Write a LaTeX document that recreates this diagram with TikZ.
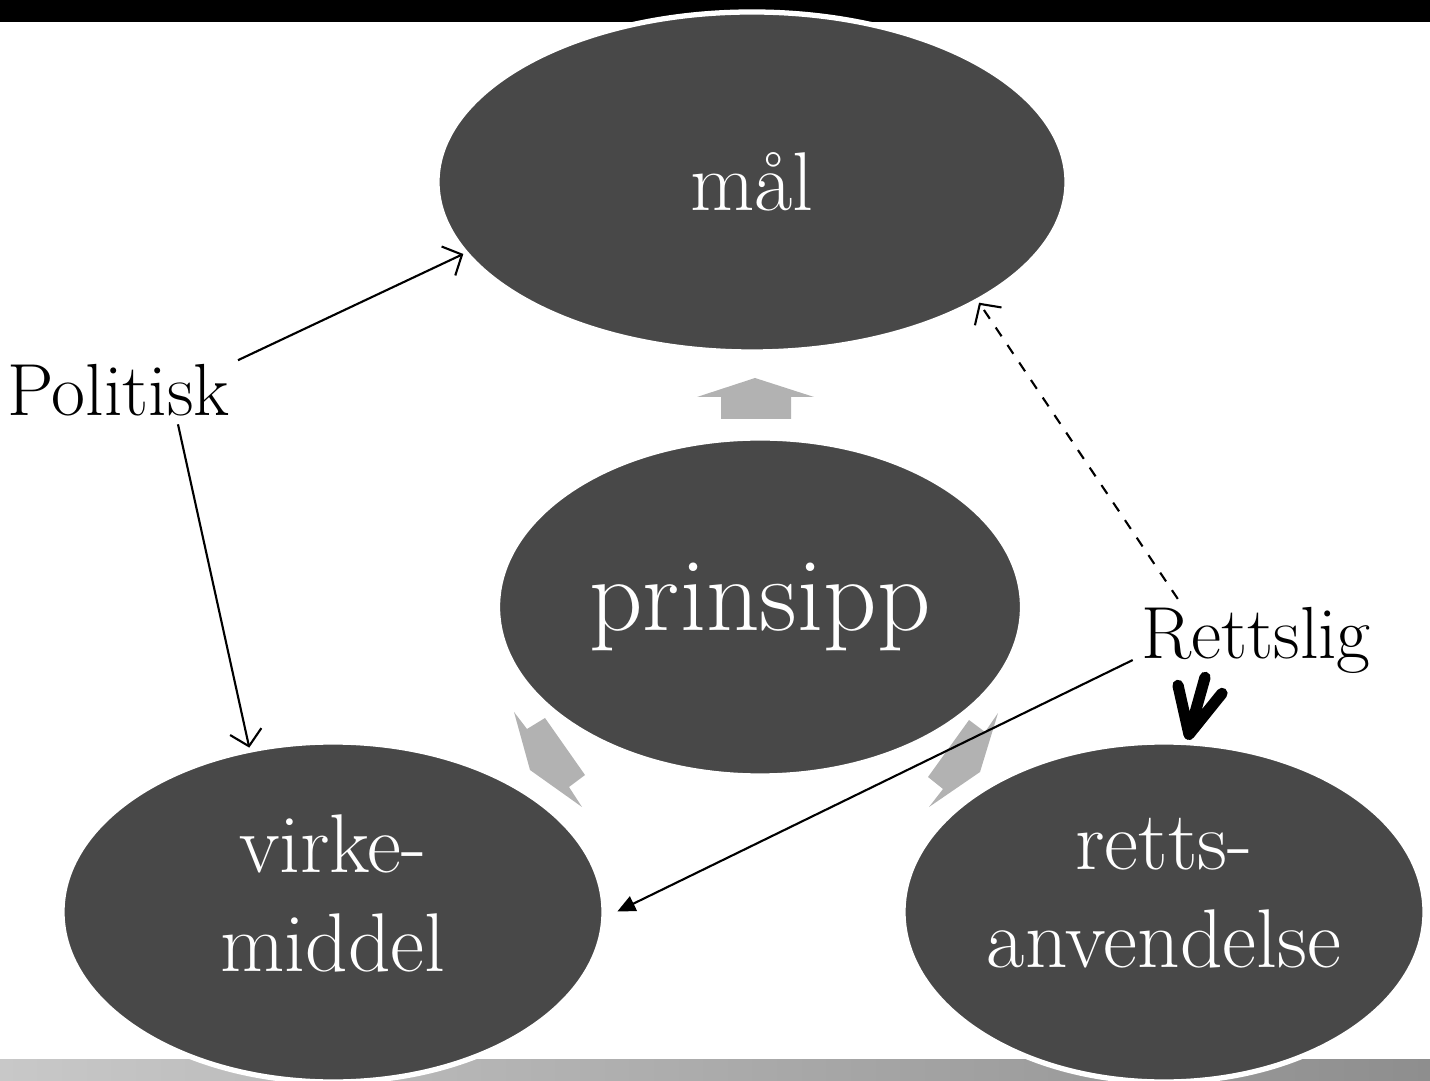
\documentclass[tikz,border=0pt]{standalone}
\usepackage{fontspec}
\usepackage{tikz}
\usetikzlibrary{shapes.geometric,calc}
\usepgflibrary{arrows.meta}
\definecolor{boks}{HTML}{484848}
\definecolor{pil}{HTML}{B2B2B2}
\tikzset{
  sirkel/.style={ellipse,fill=boks,draw=white,line width=1.5pt,inner sep=0pt,
    text=white,align=center,font=\fontsize{23.7}{28}\selectfont},
  merke/.style={inner sep=0.22em,font=\fontsize{21}{25}\selectfont},
  aapen/.style={semithick,-{Straight Barb[length=1.5mm,width=3.2mm]}},
}
\begin{document}
\begin{tikzpicture}
        \useasboundingbox (0,0) rectangle (14.30,-10.81);
        %ramme
        \fill [black] (0,0) rectangle (14.30,-0.22);
        \shade [left color={rgb,255:red,200;green,200;blue,200},right color={rgb,255:red,142;green,142;blue,142}] (0,-10.59) rectangle (14.30,-10.81);
        %grå piler
        \fill [pil] (7.55,-3.78) -- (8.14,-3.97) -- (7.91,-3.97) -- (7.91,-4.19) -- (7.21,-4.19) -- (7.21,-3.97) -- (6.97,-3.97) -- cycle;
        \fill [pil] (5.14,-7.12) -- (5.27,-7.29) -- (5.45,-7.18) -- (5.85,-7.75) -- (5.69,-7.87) -- (5.82,-8.07) -- (5.30,-7.70) -- cycle;
        \fill [pil] (9.98,-7.13) -- (9.80,-7.72) -- (9.29,-8.07) -- (9.43,-7.89) -- (9.28,-7.77) -- (9.69,-7.20) -- (9.85,-7.32) -- cycle;
        %ellipser
        \node [sirkel,minimum width=6.30cm,minimum height=3.40cm] (mal) at (7.52,-1.82) {mål};
        \node [sirkel,minimum width=5.25cm,minimum height=3.38cm,font=\fontsize{29.8}{34}\selectfont] (prinsipp) at (7.60,-6.07) {prinsipp};
        \node [sirkel,minimum width=5.42cm,minimum height=3.40cm,text depth=0.38cm] (virke) at (3.33,-9.12) {virke-\\middel};
        \node [sirkel,minimum width=5.22cm,minimum height=3.40cm,text depth=0.38cm] (retts) at (11.64,-9.12) {retts-\\anvendelse};
        %tekst
        \node [merke] (pol) at (1.185,-3.90) {Politisk};
        \node [merke] (rett) at (12.56,-6.405) {Rettslig};
        %piler
        \draw [aapen] (pol.14) -- (mal.194);
        \draw [aapen] (pol.-30) -- (virke.117);
        \draw [aapen][dashed] (rett.152) -- (mal.-28);
        \draw [semithick][-{Triangle[length=1.8mm,width=1.6mm]},shorten >=1.2mm] (rett.189) -- (virke.-1);
        %tykk pil
        \coordinate (spiss) at ($(retts.north)+(0.25,0.05)$);
        \draw [line width=3.2pt,line cap=round,line join=round] (spiss) -- +(-0.11,0.49) (spiss) -- +(0.16,0.57) (spiss) -- +(0.33,0.41);
    \end{tikzpicture}
\end{document}
